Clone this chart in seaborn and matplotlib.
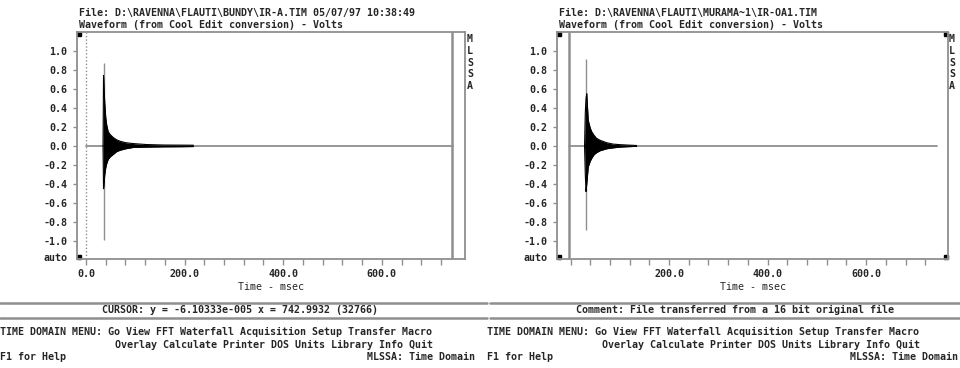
import seaborn as sns
import matplotlib.pyplot as plt
from matplotlib.lines import Line2D

# ---------------------------------------------
# Data read off the two MLSSA screens
# ---------------------------------------------
# left panel: BUNDY IR-A  (envelope of the decaying impulse response)
t_a = [34.5, 35.5, 36.5, 38, 40, 42, 45, 49, 55, 62, 69, 80, 96, 123, 157, 190, 218]
up_a = [0.0, 0.74, 0.62, 0.45, 0.30, 0.22, 0.15, 0.12, 0.09, 0.065, 0.05, 0.035,
        0.025, 0.015, 0.01, 0.009, 0.008]
lo_a = [0.0, -0.45, -0.40, -0.30, -0.23, -0.185, -0.14, -0.115, -0.09, -0.06, -0.045,
        -0.03, -0.015, -0.012, -0.009, -0.008, -0.006]
spike_a = [35.5, -0.99, 0.87]          # time, min, max of the thin grey peak
base_a = [0, 745]
cursor_a = 743

# right panel: MURAMA~1 IR-OA1
t_b = [28.5, 30, 31.5, 33, 36, 40, 43, 48, 53, 60, 73, 86, 100, 114, 134]
up_b = [0.0, 0.35, 0.50, 0.55, 0.27, 0.19, 0.15, 0.11, 0.08, 0.06, 0.035, 0.02,
        0.014, 0.01, 0.005]
lo_b = [0.0, -0.30, -0.48, -0.40, -0.22, -0.16, -0.13, -0.09, -0.07, -0.05, -0.03,
        -0.02, -0.012, -0.008, -0.004]
spike_b = [31.5, -0.88, 0.92]
base_b = [-3, 744]
cursor_b = -3

y_ticks = [1.0, 0.8, 0.6, 0.4, 0.2, 0.0, -0.2, -0.4, -0.6, -0.8, -1.0]
x_ticks_a = [0, 200, 400, 600]
x_ticks_b = [200, 400, 600]
x_minor = list(range(0, 760, 40))

title_a = ["File: D:\\RAVENNA\\FLAUTI\\BUNDY\\IR-A.TIM 05/07/97 10:38:49",
           "Waveform (from Cool Edit conversion) - Volts"]
title_b = ["File: D:\\RAVENNA\\FLAUTI\\MURAMA~1\\IR-OA1.TIM",
           "Waveform (from Cool Edit conversion) - Volts"]
status_a = "CURSOR: y = -6.10333e-005 x = 742.9932 (32766)"
status_b = "Comment: File transferred from a 16 bit original file"
menu1 = "TIME DOMAIN MENU: Go View FFT Waterfall Acquisition Setup Transfer Macro"
menu2 = "Overlay Calculate Printer DOS Units Library Info Quit"

# ---------------------------------------------
# Style
# ---------------------------------------------
sns.set_style("white")
plt.rcParams["font.family"] = ["DejaVu Sans Mono"]
plt.rcParams["font.weight"] = "bold"
FS = 7.2
GREY = "#8f8f8f"

W, H = 960, 368
fig = plt.figure(figsize=(9.6, 3.68), dpi=100)


def px(x, y):
    return x / W, 1 - y / H


def ftext(x, y, s, **kw):
    fig.text(*px(x, y), s, fontsize=FS, va="center", **kw)


def panel(x0, x1, xlim, t, up, lo, spike, base, cursor, xticks, titles, mx,
          squares, dotted_zero):
    y0, y1 = 32, 259
    ax = fig.add_axes([x0 / W, 1 - y1 / H, (x1 - x0) / W, (y1 - y0) / H])
    ax.set_xlim(*xlim)
    ax.set_ylim(-1.19, 1.2)

    # thin grey peak, black envelope, zero line
    ax.vlines(spike[0], spike[1], spike[2], color=GREY, lw=1.0, zorder=2)
    sns.lineplot(x=base, y=[0, 0], ax=ax, color=GREY, lw=1.3, zorder=1)
    ax.fill_between(t, lo, up, color="black", lw=0, zorder=3)
    sns.lineplot(x=t, y=up, ax=ax, color="black", lw=0.8, zorder=3, sort=False)
    sns.lineplot(x=t, y=lo, ax=ax, color="black", lw=0.8, zorder=3, sort=False)

    ax.axvline(cursor, color=GREY, lw=1.8, zorder=2)
    if dotted_zero:
        ax.axvline(0, color=GREY, lw=1.0, ls=(0, (1, 1.5)), zorder=2)

    for s in ax.spines.values():
        s.set_color(GREY)
        s.set_linewidth(1.3)

    ax.set_yticks(y_ticks)
    ax.set_yticklabels([f"{v:.1f}" for v in y_ticks])
    ax.set_xticks(xticks)
    ax.set_xticklabels([f"{v:.1f}" for v in xticks])
    ax.set_xticks(x_minor, minor=True)
    ax.tick_params(axis="y", direction="out", length=3, width=1, color=GREY,
                   pad=4, labelsize=FS, left=True)
    ax.tick_params(axis="x", which="both", direction="out", length=4, width=1,
                   color=GREY, pad=3.5, labelsize=FS, bottom=True)
    ax.set_xlabel("Time - msec", fontsize=FS, labelpad=2)
    ax.set_ylabel("")

    ax.text(-0.025, 0.005, "auto", transform=ax.transAxes, fontsize=FS,
            ha="right", va="center")
    for sx, sy in squares:
        ax.plot([sx], [sy], transform=ax.transAxes, marker="s", ms=3.2,
                color="black", ls="none", clip_on=False)

    ftext(x0 + 2, 13, titles[0])
    ftext(x0 + 2, 25, titles[1])
    for i, ch in enumerate("MLSSA"):
        ftext(mx, 39 + i * 11.8, ch, ha="center")
    return ax


panel(77, 465, (-18.3, 768.8), t_a, up_a, lo_a, spike_a, base_a, cursor_a,
      x_ticks_a, title_a, 470, [(0.004, 0.99), (0.004, 0.008)], True)
panel(557, 948, (-27.4, 766), t_b, up_b, lo_b, spike_b, base_b, cursor_b,
      x_ticks_b, title_b, 952, [(0.004, 0.99), (0.996, 0.99), (0.004, 0.008),
                                (0.996, 0.008)], False)

# ---------------------------------------------
# Status boxes and menu lines
# ---------------------------------------------
for xa, xb in [(0, 487), (490, 960)]:
    for yy in (302.5, 317.5):
        fig.add_artist(Line2D([xa / W, xb / W], [px(0, yy)[1]] * 2,
                              color=GREY, lw=1.8))

ftext(240, 310, status_a, ha="center")
ftext(735, 310, status_b, ha="center")

for x0, xr in [(0, 475), (487, 958)]:
    ftext(x0, 332, menu1)
    ftext(x0 + 115, 345, menu2)
    ftext(x0, 357, "F1 for Help")
    ftext(xr, 357, "MLSSA: Time Domain", ha="right")

fig.savefig("out.png", dpi=100)
plt.close(fig)
